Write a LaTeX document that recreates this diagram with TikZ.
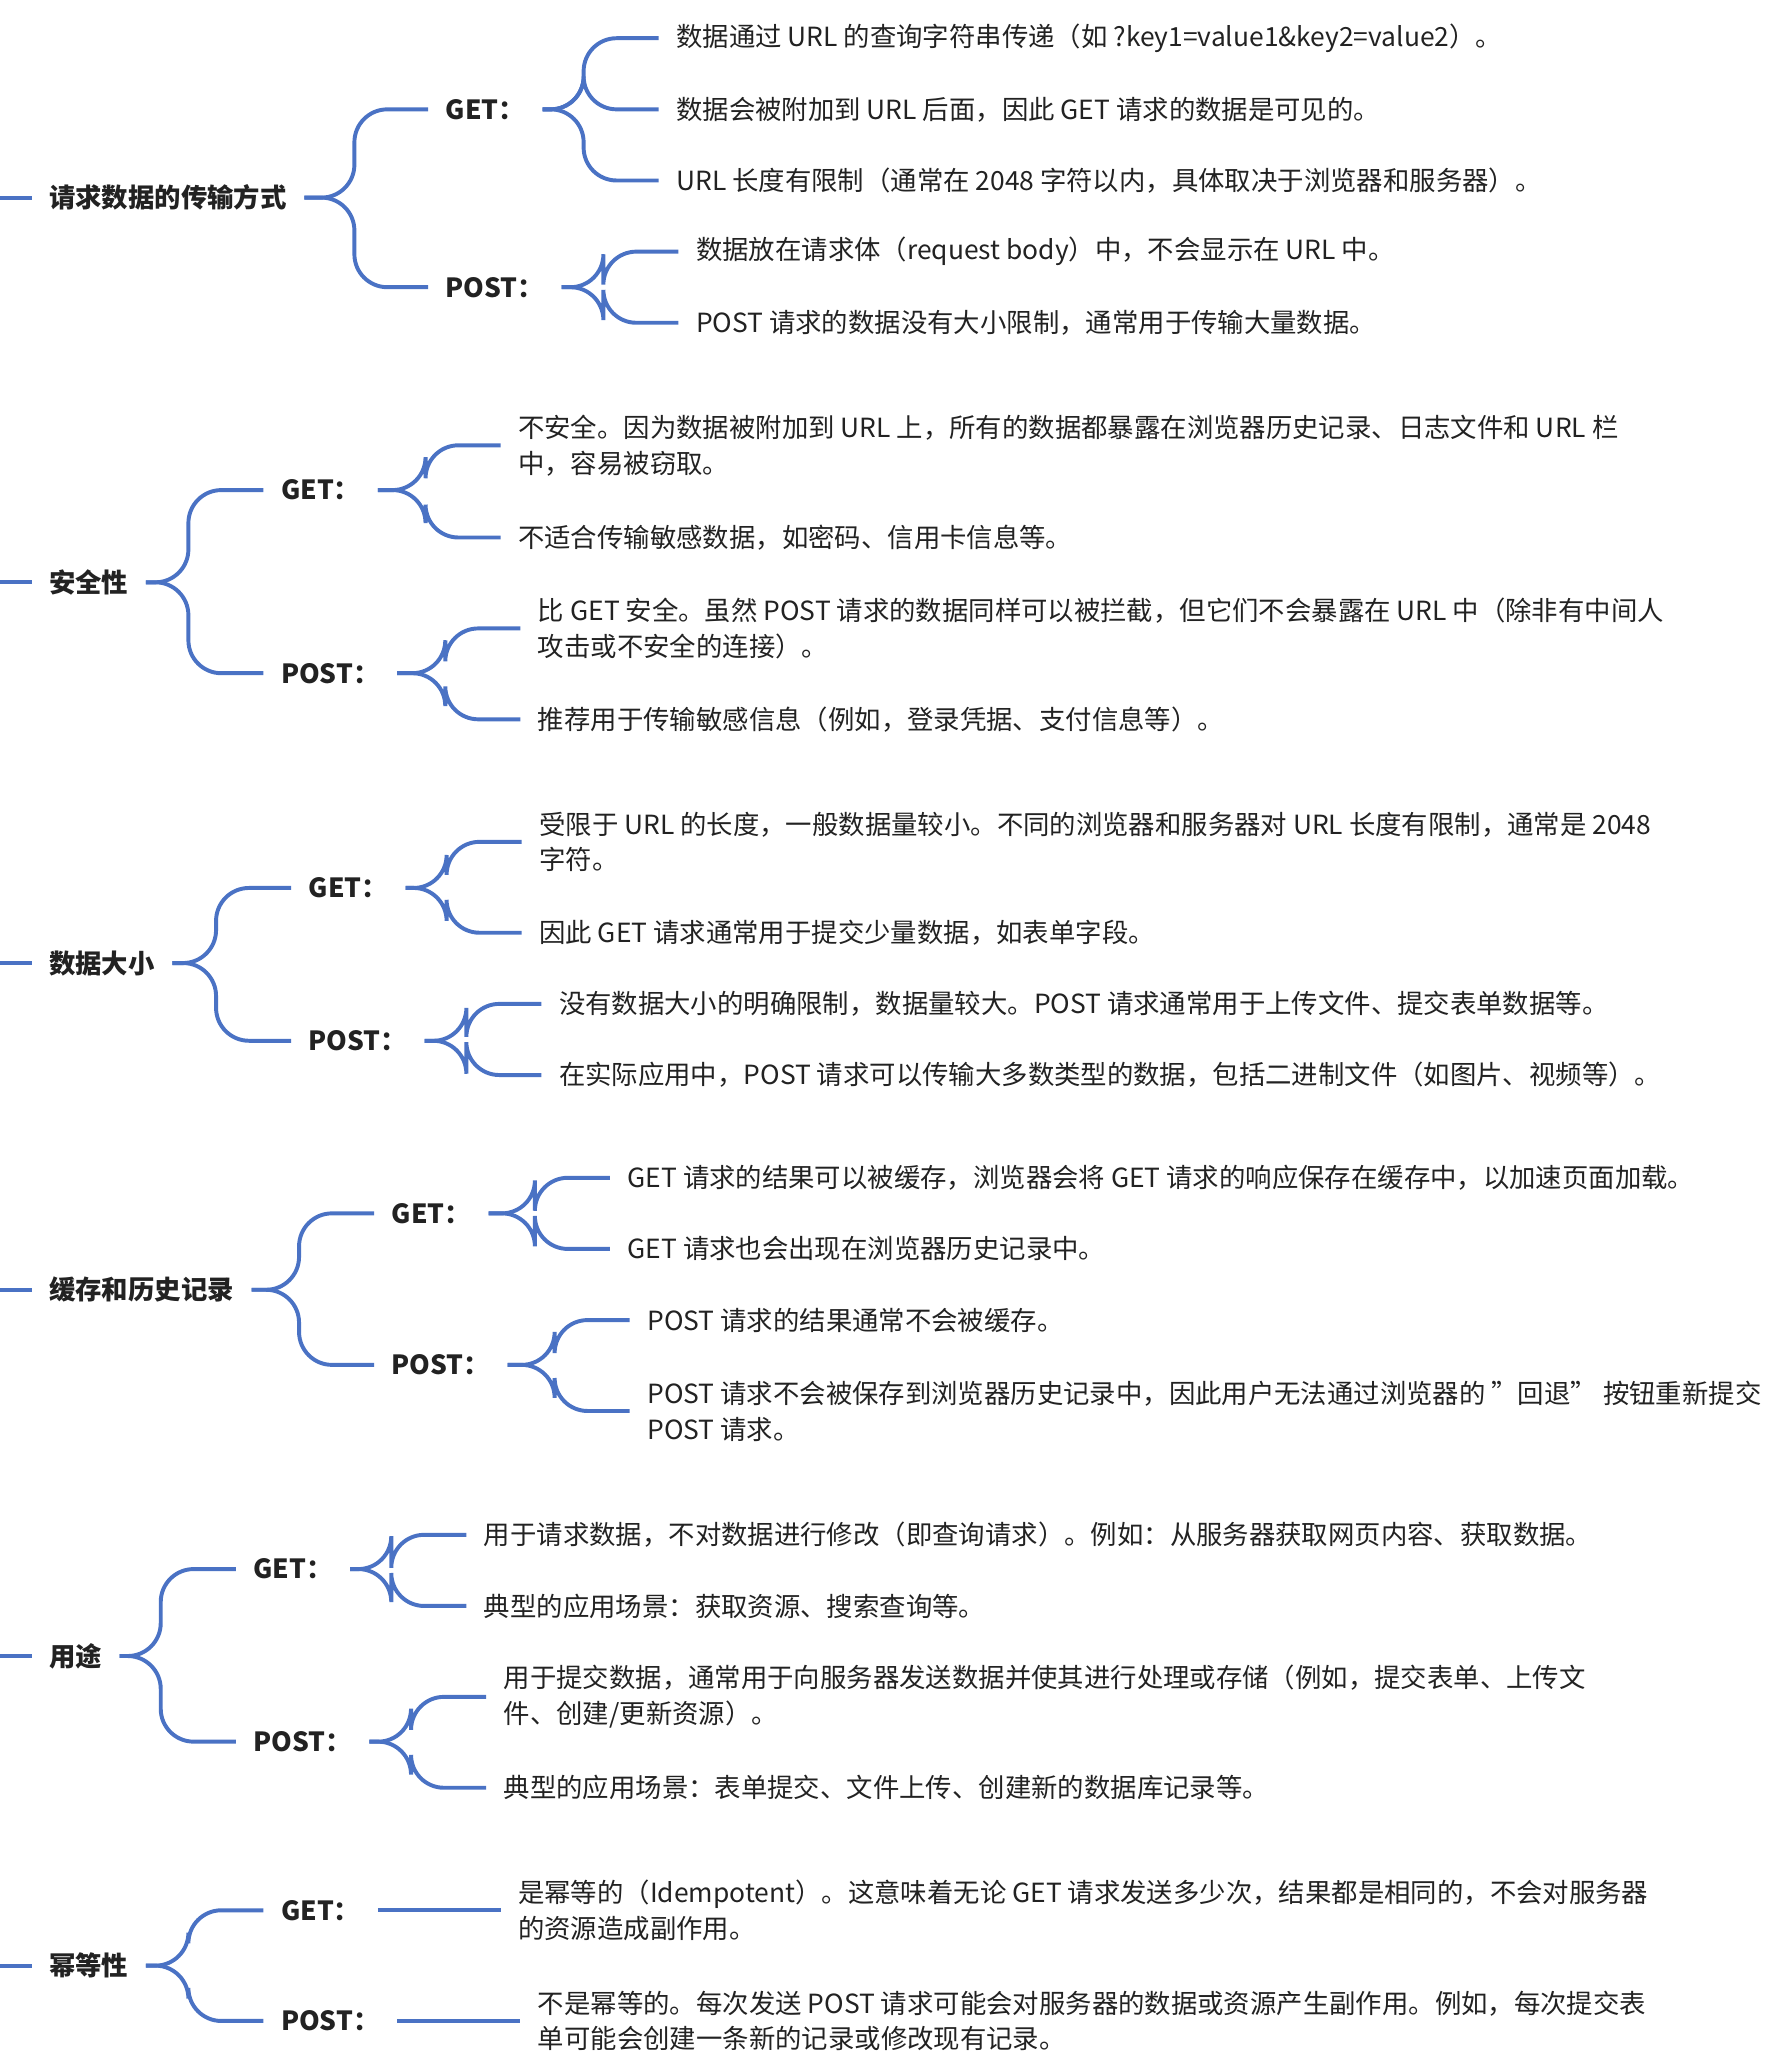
\documentclass[tikz,border=0pt]{standalone}
\usepackage{fontspec}
\setmainfont{Noto Sans CJK SC}
\definecolor{linkblue}{HTML}{4A72C4}
\definecolor{inktext}{HTML}{222222}
\begin{document}
\begin{tikzpicture}[x=0.02cm,y=-0.02cm,
  every node/.style={anchor=west,xshift=-0.26cm,inner xsep=0.26cm,inner ysep=2pt,
    font=\fontsize{11.4}{15.5}\selectfont,text=inktext,align=left},
  topic/.style={font=\fontsize{11.4}{15.5}\selectfont\bfseries},
  method/.style={font=\fontsize{11.4}{15.5}\selectfont\bfseries},
  conn/.style={draw=linkblue,line width=1.7pt,rounded corners=0.5cm}]
\useasboundingbox (0,0) rectangle (1360,1572);

% 请求数据的传输方式
\node[topic] (transfer) at (37,150) {请求数据的传输方式};
\node[method] (transferGet) at (338,83) {GET：};
\node[method] (transferPost) at (338,218) {POST：};
\node (transferGetA) at (513,29) {数据通过 URL 的查询字符串传递（如 ?key1=value1\&key2=value2）。};
\node (transferGetB) at (513,83) {数据会被附加到 URL 后面，因此 GET 请求的数据是可见的。};
\node (transferGetC) at (513,137) {URL 长度有限制（通常在 2048 字符以内，具体取决于浏览器和服务器）。};
\node (transferPostA) at (528,191) {数据放在请求体（request body）中，不会显示在 URL 中。};
\node (transferPostB) at (528,245) {POST 请求的数据没有大小限制，通常用于传输大量数据。};
\coordinate (transferIn) at (0,150);
\coordinate (transferFork) at (282,150);
\coordinate (transferGetFork) at (456,83);
\coordinate (transferPostFork) at (471,218);
\draw[conn] (transferIn) -- (transfer.west);
\foreach \c in {transferGet,transferPost}
  \draw[conn] (transfer.east) -- (transferFork) |- (\c.west);
\foreach \c in {transferGetA,transferGetB,transferGetC}
  \draw[conn] (transferGet.east) -- (transferGetFork) |- (\c.west);
\foreach \c in {transferPostA,transferPostB}
  \draw[conn] (transferPost.east) -- (transferPostFork) |- (\c.west);

% 安全性
\node[topic] (safety) at (37,442) {安全性};
\node[method] (safetyGet) at (213,372) {GET：};
\node[method] (safetyPost) at (213,511) {POST：};
\node (safetyGetA) at (393,338) {不安全。因为数据被附加到 URL 上，所有的数据都暴露在浏览器历史记录、日志文件和 URL 栏\\中，容易被窃取。};
\node (safetyGetB) at (393,408) {不适合传输敏感数据，如密码、信用卡信息等。};
\node (safetyPostA) at (408,477) {比 GET 安全。虽然 POST 请求的数据同样可以被拦截，但它们不会暴露在 URL 中（除非有中间人\\攻击或不安全的连接）。};
\node (safetyPostB) at (408,546) {推荐用于传输敏感信息（例如，登录凭据、支付信息等）。};
\coordinate (safetyIn) at (0,442);
\coordinate (safetyFork) at (156,442);
\coordinate (safetyGetFork) at (336,372);
\coordinate (safetyPostFork) at (351,511);
\draw[conn] (safetyIn) -- (safety.west);
\foreach \c in {safetyGet,safetyPost}
  \draw[conn] (safety.east) -- (safetyFork) |- (\c.west);
\foreach \c in {safetyGetA,safetyGetB}
  \draw[conn] (safetyGet.east) -- (safetyGetFork) |- (\c.west);
\foreach \c in {safetyPostA,safetyPostB}
  \draw[conn] (safetyPost.east) -- (safetyPostFork) |- (\c.west);

% 数据大小
\node[topic] (size) at (37,731) {数据大小};
\node[method] (sizeGet) at (234,674) {GET：};
\node[method] (sizePost) at (234,790) {POST：};
\node (sizeGetA) at (409,639) {受限于 URL 的长度，一般数据量较小。不同的浏览器和服务器对 URL 长度有限制，通常是 2048\\字符。};
\node (sizeGetB) at (409,708) {因此 GET 请求通常用于提交少量数据，如表单字段。};
\node (sizePostA) at (424,762) {没有数据大小的明确限制，数据量较大。POST 请求通常用于上传文件、提交表单数据等。};
\node (sizePostB) at (424,816) {在实际应用中，POST 请求可以传输大多数类型的数据，包括二进制文件（如图片、视频等）。};
\coordinate (sizeIn) at (0,731);
\coordinate (sizeFork) at (177,731);
\coordinate (sizeGetFork) at (352,674);
\coordinate (sizePostFork) at (367,790);
\draw[conn] (sizeIn) -- (size.west);
\foreach \c in {sizeGet,sizePost}
  \draw[conn] (size.east) -- (sizeFork) |- (\c.west);
\foreach \c in {sizeGetA,sizeGetB}
  \draw[conn] (sizeGet.east) -- (sizeGetFork) |- (\c.west);
\foreach \c in {sizePostA,sizePostB}
  \draw[conn] (sizePost.east) -- (sizePostFork) |- (\c.west);

% 缓存和历史记录
\node[topic] (cache) at (37,979) {缓存和历史记录};
\node[method] (cacheGet) at (297,921) {GET：};
\node[method] (cachePost) at (297,1036) {POST：};
\node (cacheGetA) at (476,894) {GET 请求的结果可以被缓存，浏览器会将 GET 请求的响应保存在缓存中，以加速页面加载。};
\node (cacheGetB) at (476,948) {GET 请求也会出现在浏览器历史记录中。};
\node (cachePostA) at (491,1002) {POST 请求的结果通常不会被缓存。};
\node (cachePostB) at (491,1071) {POST 请求不会被保存到浏览器历史记录中，因此用户无法通过浏览器的 "回退" 按钮重新提交\\POST 请求。};
\coordinate (cacheIn) at (0,979);
\coordinate (cacheFork) at (240,979);
\coordinate (cacheGetFork) at (419,921);
\coordinate (cachePostFork) at (434,1036);
\draw[conn] (cacheIn) -- (cache.west);
\foreach \c in {cacheGet,cachePost}
  \draw[conn] (cache.east) -- (cacheFork) |- (\c.west);
\foreach \c in {cacheGetA,cacheGetB}
  \draw[conn] (cacheGet.east) -- (cacheGetFork) |- (\c.west);
\foreach \c in {cachePostA,cachePostB}
  \draw[conn] (cachePost.east) -- (cachePostFork) |- (\c.west);

% 用途
\node[topic] (usage) at (37,1257) {用途};
\node[method] (usageGet) at (192,1191) {GET：};
\node[method] (usagePost) at (192,1322) {POST：};
\node (usageGetA) at (367,1165) {用于请求数据，不对数据进行修改（即查询请求）。例如：从服务器获取网页内容、获取数据。};
\node (usageGetB) at (367,1219) {典型的应用场景：获取资源、搜索查询等。};
\node (usagePostA) at (382,1288) {用于提交数据，通常用于向服务器发送数据并使其进行处理或存储（例如，提交表单、上传文\\件、创建/更新资源）。};
\node (usagePostB) at (382,1357) {典型的应用场景：表单提交、文件上传、创建新的数据库记录等。};
\coordinate (usageIn) at (0,1257);
\coordinate (usageFork) at (135,1257);
\coordinate (usageGetFork) at (310,1191);
\coordinate (usagePostFork) at (325,1322);
\draw[conn] (usageIn) -- (usage.west);
\foreach \c in {usageGet,usagePost}
  \draw[conn] (usage.east) -- (usageFork) |- (\c.west);
\foreach \c in {usageGetA,usageGetB}
  \draw[conn] (usageGet.east) -- (usageGetFork) |- (\c.west);
\foreach \c in {usagePostA,usagePostB}
  \draw[conn] (usagePost.east) -- (usagePostFork) |- (\c.west);

% 幂等性
\node[topic] (idem) at (37,1492) {幂等性};
\node[method] (idemGet) at (213,1450) {GET：};
\node[method] (idemPost) at (213,1534) {POST：};
\node (idemGetA) at (393,1450) {是幂等的（Idempotent）。这意味着无论 GET 请求发送多少次，结果都是相同的，不会对服务器\\的资源造成副作用。};
\node (idemPostA) at (408,1534) {不是幂等的。每次发送 POST 请求可能会对服务器的数据或资源产生副作用。例如，每次提交表\\单可能会创建一条新的记录或修改现有记录。};
\coordinate (idemIn) at (0,1492);
\coordinate (idemFork) at (156,1492);
\draw[conn] (idemIn) -- (idem.west);
\foreach \c in {idemGet,idemPost}
  \draw[conn] (idem.east) -- (idemFork) |- (\c.west);
\draw[conn] (idemGet.east) -- (idemGetA.west);
\draw[conn] (idemPost.east) -- (idemPostA.west);
\end{tikzpicture}
\end{document}
